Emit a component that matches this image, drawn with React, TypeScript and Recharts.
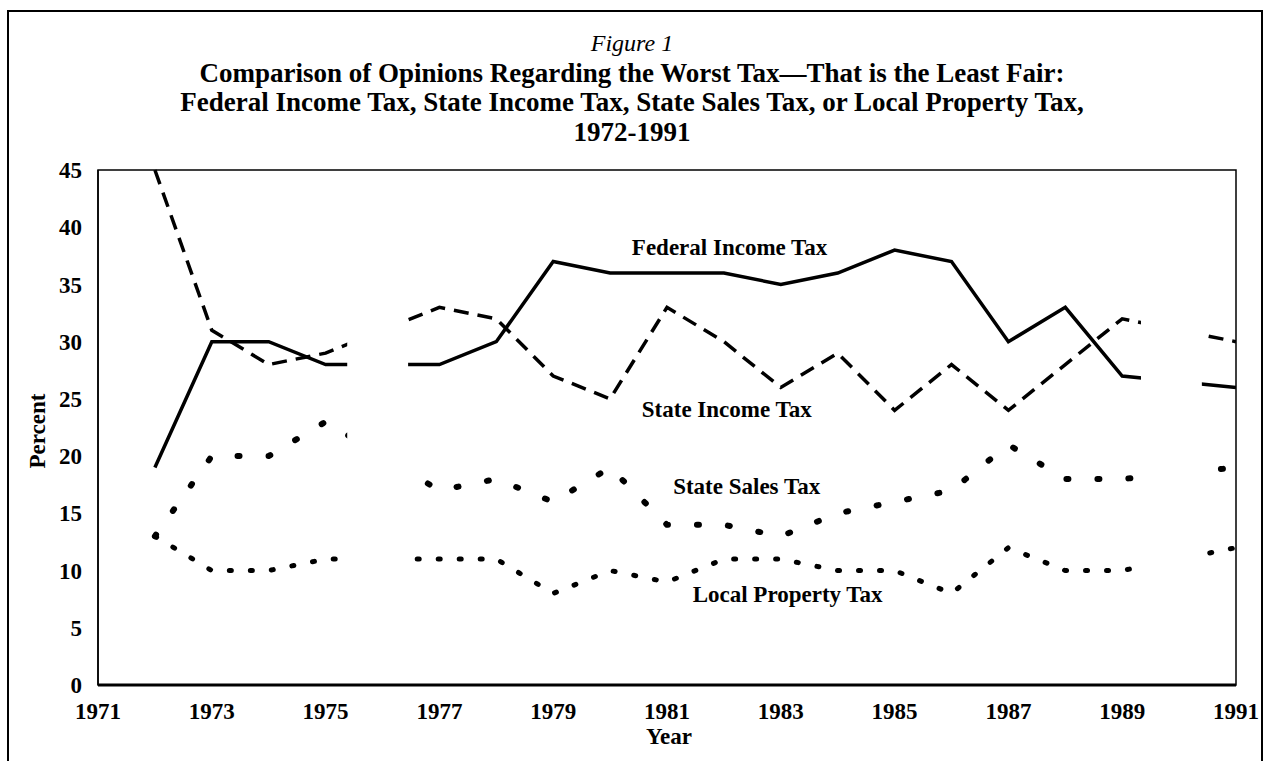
import { LineChart, Line, XAxis, YAxis, ReferenceArea, ReferenceDot } from "recharts"

const years = [1972, 1973, 1974, 1975, 1977, 1978, 1979, 1980, 1981, 1982, 1983, 1984, 1985, 1986, 1987, 1988, 1989, 1991]
const federalIncome = [19, 30, 30, 28, 28, 30, 37, 36, 36, 36, 35, 36, 38, 37, 30, 33, 27, 26]
const stateIncome = [45, 31, 28, 29, 33, 32, 27, 25, 33, 30, 26, 29, 24, 28, 24, 28, 32, 30]
const stateSales = [13, 20, 20, 23, 17, 18, 16, 19, 14, 14, 13, 15, 16, 17, 21, 18, 18, 19]
const localProperty = [13, 10, 10, 11, 11, 11, 8, 10, 9, 11, 11, 10, 10, 8, 12, 10, 10, 12]

const xTicks = [1971, 1973, 1975, 1977, 1979, 1981, 1983, 1985, 1987, 1989, 1991]
const yTicks = [0, 5, 10, 15, 20, 25, 30, 35, 40, 45]

// no survey in 1976 and 1990: the printed lines are broken there
const gaps = [
  [1975.38, 1976.45],
  [1989.33, 1990.4],
]

const seriesLabels = [
  { text: "Federal Income Tax", x: 1982.1, y: 38.3 },
  { text: "State Income Tax", x: 1982.05, y: 24.1 },
  { text: "State Sales Tax", x: 1982.4, y: 17.4 },
  { text: "Local Property Tax", x: 1983.12, y: 8 },
]

const data = years.map((year, i) => ({
  year,
  federal: federalIncome[i],
  stateIncome: stateIncome[i],
  sales: stateSales[i],
  property: localProperty[i],
}))

const serif = "'Liberation Serif', 'Times New Roman', serif"
const tickStyle = { fill: "#000", fontSize: 23, fontWeight: "bold", fontFamily: serif }

export default function App() {
  return (
    <div
      style={{
        position: "absolute",
        left: 0,
        top: 0,
        width: 1264,
        height: 761,
        background: "#fff",
        fontFamily: serif,
        color: "#000",
        overflow: "hidden",
      }}
    >
      <div
        style={{
          position: "absolute",
          left: 7,
          top: 10,
          width: 1252,
          height: 800,
          borderTop: "2px solid #000",
          borderLeft: "2px solid #000",
          borderRight: "2px solid #000",
        }}
      />
      <div
        style={{
          position: "absolute",
          left: 0,
          top: 29,
          width: 1264,
          textAlign: "center",
          fontSize: 27,
          lineHeight: "29.7px",
        }}
      >
        <div style={{ fontStyle: "italic", fontSize: 24 }}>Figure 1</div>
        <div style={{ fontWeight: "bold" }}>
          Comparison of Opinions Regarding the Worst Tax—That is the Least Fair:
        </div>
        <div style={{ fontWeight: "bold" }}>
          Federal Income Tax, State Income Tax, State Sales Tax, or Local Property Tax,
        </div>
        <div style={{ fontWeight: "bold" }}>1972-1991</div>
      </div>
      <div
        style={{
          position: "absolute",
          left: 38,
          top: 431,
          transform: "translate(-50%, -50%) rotate(-90deg)",
          fontSize: 23,
          fontWeight: "bold",
          whiteSpace: "nowrap",
        }}
      >
        Percent
      </div>
      <div
        style={{
          position: "absolute",
          left: 669,
          top: 737,
          transform: "translate(-50%, -50%)",
          fontSize: 23,
          fontWeight: "bold",
        }}
      >
        Year
      </div>
      <div style={{ position: "absolute", left: 0, top: 0 }}>
        <LineChart
          width={1264}
          height={761}
          data={data}
          margin={{ top: 170, right: 28, left: 38, bottom: 46 }}
        >
          <XAxis
            dataKey="year"
            type="number"
            domain={[1971, 1991]}
            ticks={xTicks}
            allowDataOverflow
            height={30}
            tickLine={false}
            tickMargin={12}
            axisLine={{ stroke: "#000", strokeWidth: 3 }}
            tick={tickStyle}
          />
          <YAxis
            type="number"
            domain={[0, 45]}
            ticks={yTicks}
            width={60}
            tickLine={false}
            tickMargin={10}
            axisLine={{ stroke: "#000", strokeWidth: 1.5 }}
            tick={tickStyle}
          />
          <Line
            dataKey="federal"
            type="linear"
            stroke="#000"
            strokeWidth={3.5}
            dot={false}
            isAnimationActive={false}
          />
          <Line
            dataKey="stateIncome"
            type="linear"
            stroke="#000"
            strokeWidth={3.5}
            strokeDasharray="15 9"
            dot={false}
            isAnimationActive={false}
          />
          <Line
            dataKey="sales"
            type="linear"
            stroke="#000"
            strokeWidth={6}
            strokeLinecap="round"
            strokeDasharray="2 29"
            dot={false}
            isAnimationActive={false}
          />
          <Line
            dataKey="property"
            type="linear"
            stroke="#000"
            strokeWidth={5}
            strokeLinecap="round"
            strokeDasharray="2 19"
            dot={false}
            isAnimationActive={false}
          />
          {gaps.map(([a, b]) => (
            <ReferenceArea
              key={a}
              x1={a}
              x2={b}
              y1={0.6}
              y2={44.6}
              fill="#fff"
              fillOpacity={1}
              stroke="none"
              zIndex={1000}
            />
          ))}
          <ReferenceArea
            x1={1971}
            x2={1991}
            y1={0}
            y2={45}
            fill="none"
            stroke="#000"
            strokeWidth={1.5}
            zIndex={1001}
          />
          {seriesLabels.map((l) => (
            <ReferenceDot
              key={l.text}
              x={l.x}
              y={l.y}
              r={0}
              fill="none"
              stroke="none"
              zIndex={1002}
              label={{
                value: l.text,
                position: "center",
                fill: "#000",
                fontSize: 23,
                fontWeight: "bold",
                fontFamily: serif,
              }}
            />
          ))}
        </LineChart>
      </div>
    </div>
  )
}
